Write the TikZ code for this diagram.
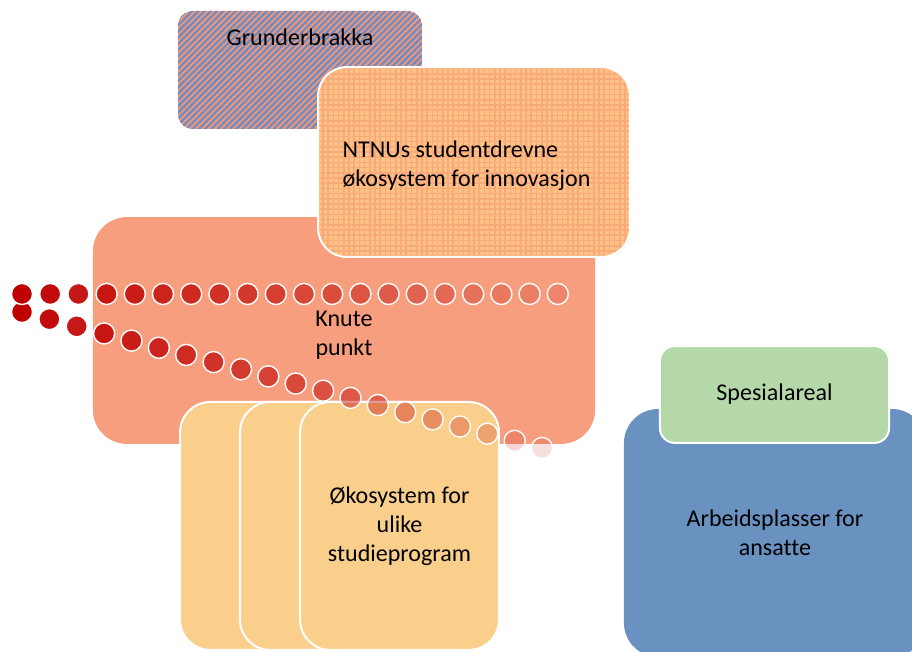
\documentclass[tikz,border=0pt]{standalone}
\usepackage{fontspec}
\setmainfont[Ligatures=NoCommon]{Carlito}
\usepackage{tikz}
\usetikzlibrary{patterns.meta}

\definecolor{knutecol}{RGB}{246,158,126}
\definecolor{gulcol}{RGB}{250,207,139}
\definecolor{blaacol}{RGB}{105,146,193}
\definecolor{gronncol}{RGB}{181,216,168}
\definecolor{stripeorange}{RGB}{240,150,118}
\definecolor{stripeblue}{RGB}{108,140,200}
\definecolor{ntnucol}{RGB}{255,194,130}
\definecolor{ntnugrid}{RGB}{248,170,124}
\definecolor{dotred}{RGB}{192,0,0}

\begin{document}
\begin{tikzpicture}[
							boks/.style={rectangle, font=\fontsize{12}{14.4}\selectfont, align=center, inner sep=0pt},
							whiteline/.style={draw=white, line width=1pt},
							dotnode/.style={circle, draw=white, line width=0.7pt, fill=dotred, inner sep=0pt, minimum size=0.37cm},
							]
							\clip (0,0) rectangle (16,11.4386);
							%Nodes
							\node[boks, rounded corners=0.26cm, minimum width=4.28cm, minimum height=2.07cm,
								preaction={fill=stripeorange}, pattern={Lines[angle=45,distance=2.2pt,line width=1.1pt]}, pattern color=stripeblue]
								(grunder) at (5.263,10.211) {};
							\node[boks]      (grunderlbl) at (5.263,10.79) {Grunderbrakka};
							\node[boks, rounded corners=0.6cm, minimum width=8.81cm, minimum height=3.98cm, fill=knutecol]
								(knute) at (6.035,5.640) {};
							\node[boks]      (knutelbl) at (6.035,5.553) {Knute\\punkt};
							\node[boks, whiteline, rounded corners=0.5cm, minimum width=5.47cm, minimum height=3.33cm,
								preaction={fill=ntnucol}, pattern={Hatch[angle=0,distance=2.6pt,line width=0.8pt]}, pattern color=ntnugrid]
								(ntnu) at (8.316,8.596) {};
							\node[boks, align=left] (ntnulbl) at (8.184,8.535) {NTNUs studentdrevne\\økosystem for innovasjon};
							\node[boks, whiteline, rounded corners=0.53cm, minimum width=3.49cm, minimum height=4.35cm, fill=gulcol]
								(studie1) at (4.904,2.211) {};
							\node[boks, whiteline, rounded corners=0.53cm, minimum width=3.49cm, minimum height=4.35cm, fill=gulcol]
								(studie2) at (5.956,2.211) {};
							\node[boks, whiteline, rounded corners=0.53cm, minimum width=3.49cm, minimum height=4.35cm, fill=gulcol]
								(studie3) at (7.009,2.211) {Økosystem for\\ulike\\studieprogram};

							%Dots
							\foreach \i in {0,...,19}{
								\pgfmathsetmacro{\op}{1-0.88*\i/19}
								\node[dotnode, fill opacity=\op] (dotb\i) at (0.386+0.4802*\i, 5.965-0.1256*\i) {};
							}
							\foreach \i in {0,...,19}{
								\pgfmathsetmacro{\op}{1-0.85*\i/19}
								\node[dotnode, fill opacity=\op] (dota\i) at (0.386+0.4947*\i, 6.281) {};
							}

							\node[boks, rounded corners=0.6cm, minimum width=5.30cm, minimum height=4.35cm, fill=blaacol]
								(ansatte) at (13.596,2.088) {Arbeidsplasser for\\ansatte};
							\node[boks, whiteline, rounded corners=0.26cm, minimum width=4.02cm, minimum height=1.70cm, fill=gronncol]
								(spesial) at (13.588,4.518) {Spesialareal};
						\end{tikzpicture}
\end{document}
